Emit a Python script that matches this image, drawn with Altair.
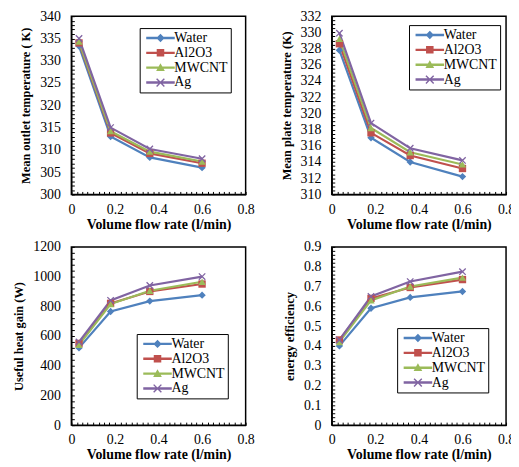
import altair as alt
import pandas as pd

# ---------------- data ----------------
flow = [0.035, 0.18, 0.36, 0.6]
fluids = ["Water", "Al2O3", "MWCNT", "Ag"]
colors = ["#4F81BD", "#C0504D", "#9BBB59", "#8064A2"]

outlet_water = [333.3, 313.0, 308.3, 306.0]
outlet_al2o3 = [334.0, 313.8, 309.2, 307.0]
outlet_mwcnt = [334.3, 314.2, 309.6, 307.4]
outlet_ag = [335.0, 315.0, 310.2, 308.0]

plate_water = [327.8, 317.0, 314.0, 312.2]
plate_al2o3 = [328.6, 317.6, 314.8, 313.2]
plate_mwcnt = [329.2, 318.2, 315.2, 313.7]
plate_ag = [329.9, 318.8, 315.7, 314.2]

heat_water = [520, 765, 835, 875]
heat_al2o3 = [550, 820, 900, 950]
heat_mwcnt = [540, 815, 905, 965]
heat_ag = [560, 840, 940, 1000]

eff_water = [0.40, 0.59, 0.645, 0.675]
eff_al2o3 = [0.43, 0.64, 0.695, 0.735]
eff_mwcnt = [0.42, 0.63, 0.70, 0.745]
eff_ag = [0.43, 0.65, 0.725, 0.775]

x_ticks = [0, 0.2, 0.4, 0.6, 0.8]
outlet_ticks = [300, 305, 310, 315, 320, 325, 330, 335, 340]
plate_ticks = [310, 312, 314, 316, 318, 320, 322, 324, 326, 328, 330, 332]
heat_ticks = [0, 200, 400, 600, 800, 1000, 1200]
eff_ticks = [0, 0.1, 0.2, 0.3, 0.4, 0.5, 0.6, 0.7, 0.8, 0.9]

# ---------------- styling ----------------
SERIF = "Liberation Serif"
X_PATH = ("M-1,-0.75L-0.75,-1L0,-0.25L0.75,-1L1,-0.75L0.25,0L1,0.75L0.75,1"
          "L0,0.25L-0.75,1L-1,0.75L-0.25,0Z")
chart_shapes = ["diamond", "square", "triangle-up", X_PATH]

LINE = "M-3.6,-0.3H3.6V0.3H-3.6Z"
leg_shapes = [
    LINE + "M0,-1.05L1.05,0L0,1.05L-1.05,0Z",
    LINE + "M-0.95,-0.95H0.95V0.95H-0.95Z",
    LINE + "M0,-1.1L1.1,0.85H-1.1Z",
    LINE + ("M-1.1,-0.85L-0.85,-1.1L0,-0.25L0.85,-1.1L1.1,-0.85L0.25,0L1.1,0.85"
            "L0.85,1.1L0,0.25L-0.85,1.1L-1.1,0.85L-0.25,0Z"),
]


def minor(lo, hi, step):
    n = int(round((hi - lo) / step))
    return [round(lo + i * step, 6) for i in range(n + 1)]


def make_df(series):
    rows = []
    for name, vals in zip(fluids, series):
        for x, v in zip(flow, vals):
            rows.append({"flow": x, "val": v, "fluid": name})
    return pd.DataFrame(rows)


def panel(series, ytitle, major_ticks, minor_step, legx, legy):
    df = make_df(series)
    major_step = major_ticks[1] - major_ticks[0]
    xstep = x_ticks[1] - x_ticks[0]
    base = alt.Chart(df)
    xenc = alt.X(
        "flow:Q",
        scale=alt.Scale(domain=[x_ticks[0], x_ticks[-1]], nice=False),
        axis=alt.Axis(
            values=minor(x_ticks[0], x_ticks[-1], 0.025),
            labelExpr=f"abs(round(datum.value/{xstep}) - datum.value/{xstep}) < 0.001 ? format(datum.value, '~g') : ''",
            title="Volume flow rate (l/min)",
            titleFontSize=14,
            labelOverlap=False,
            labelFlush=False,
            labelPadding=11,
            titlePadding=1,
        ),
    )
    yenc = alt.Y(
        "val:Q",
        scale=alt.Scale(domain=[major_ticks[0], major_ticks[-1]], nice=False, zero=False),
        axis=alt.Axis(
            values=minor(major_ticks[0], major_ticks[-1], minor_step),
            labelExpr=f"abs(round(datum.value/{major_step}) - datum.value/{major_step}) < 0.001 ? format(datum.value, '~g') : ''",
            title=ytitle,
            titleFontSize=12.5,
            labelOverlap=False,
            labelFlush=False,
            labelPadding=14,
            titlePadding=7,
        ),
    )
    cscale = alt.Scale(domain=fluids, range=colors)
    lines = base.mark_line(strokeWidth=2.2).encode(
        x=xenc, y=yenc,
        color=alt.Color("fluid:N", scale=cscale, legend=None),
        detail="fluid:N",
    )
    points = base.mark_point(filled=True, size=55, opacity=1).encode(
        x=xenc, y=yenc,
        color=alt.Color("fluid:N", scale=cscale, legend=None),
        shape=alt.Shape("fluid:N", scale=alt.Scale(domain=fluids, range=chart_shapes), legend=None),
    )
    leg = alt.Legend(
        orient="none", legendX=legx, legendY=legy, title=None,
        strokeColor="black", fillColor="white", padding=3,
        symbolSize=64, symbolOffset=11, labelOffset=7, rowPadding=1,
        labelFont=SERIF, labelFontSize=14, labelColor="black",
        symbolStrokeWidth=0, symbolOpacity=1,
    )
    legend_layer = base.transform_filter("false").mark_point(filled=True, opacity=1).encode(
        color=alt.Color("fluid:N", scale=cscale, legend=leg),
        shape=alt.Shape("fluid:N", scale=alt.Scale(domain=fluids, range=leg_shapes), legend=leg),
    )
    return (
        alt.layer(lines, points, legend_layer)
        .resolve_scale(color="independent", shape="independent")
        .resolve_legend(color="independent", shape="independent")
        .properties(width=176, height=180)
    )


p1 = panel([outlet_water, outlet_al2o3, outlet_mwcnt, outlet_ag],
           "Mean outlet temperature ( K)", outlet_ticks, 1, 69, 12)
p2 = panel([plate_water, plate_al2o3, plate_mwcnt, plate_ag],
           "Mean plate temperature (K)", plate_ticks, 0.5, 78, 9)
p3 = panel([heat_water, heat_al2o3, heat_mwcnt, heat_ag],
           "Useful heat gain (W)", heat_ticks, 40, 66, 88)
p4 = panel([eff_water, eff_al2o3, eff_mwcnt, eff_ag],
           "energy efficiency", eff_ticks, 0.02, 66, 82)

RES = dict(color="independent", shape="independent")
row1 = alt.hconcat(p1, p2, spacing=87, bounds="flush").resolve_scale(**RES).resolve_legend(**RES)
row2 = alt.hconcat(p3, p4, spacing=87, bounds="flush").resolve_scale(**RES).resolve_legend(**RES)

chart = (
    alt.vconcat(row1, row2, spacing=7)
    .resolve_scale(**RES)
    .resolve_legend(**RES)
    .properties(padding={"left": 4, "top": -2, "right": -5, "bottom": 0}, background="white")
    .configure(font=SERIF)
    .configure_view(stroke="black", strokeWidth=1.5)
    .configure_axis(
        labelFont=SERIF, labelFontSize=14, labelColor="black",
        titleFont=SERIF, titleFontWeight="bold", titleColor="black",
        domainColor="black", domainWidth=1.2,
        tickColor="black", tickSize={"expr": "-3"}, tickWidth=1,
        grid=False,
    )
)

chart.save("out.html", embed_options={"renderer": "svg", "actions": False})
